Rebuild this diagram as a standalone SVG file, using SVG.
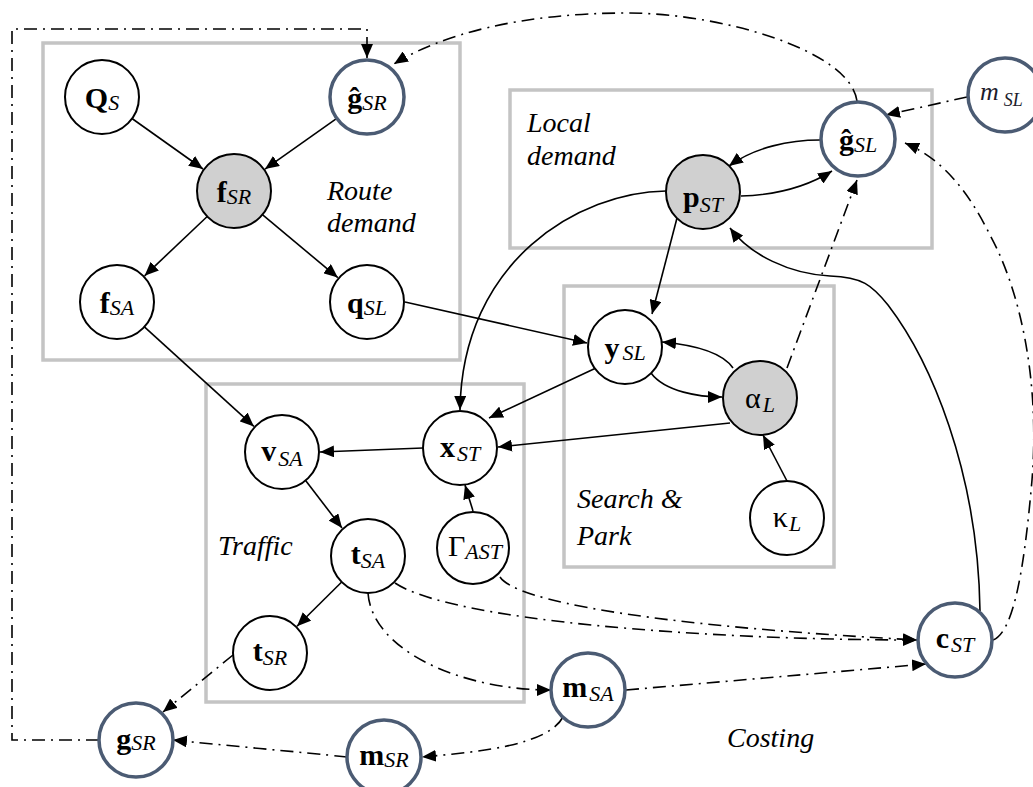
<svg xmlns="http://www.w3.org/2000/svg" width="1033" height="787" viewBox="0 0 1033 787">
<style>
.box{fill:none;stroke:#c4c4c4;stroke-width:3.5}
.n{fill:#fff;stroke:#000;stroke-width:2}
.g{fill:#d0d0d0;stroke:#000;stroke-width:2}
.bl{fill:#fff;stroke:#4b5b73;stroke-width:3.5}
.c{fill:none;stroke:#000;stroke-width:1.6}
.d{fill:none;stroke:#000;stroke-width:1.6;stroke-dasharray:13 6 2 6}
</style>
<defs>
<marker id="ah" viewBox="0 0 14 12" refX="14" refY="6" markerWidth="14" markerHeight="12" orient="auto" markerUnits="userSpaceOnUse"><path d="M0,0 L14,6 L0,12 z" fill="#000"/></marker>
</defs>
<rect width="1033" height="787" fill="#fff"/>
<g id="boxes">
<rect class="box" x="43" y="43" width="417" height="317"/>
<rect class="box" x="510" y="90" width="422" height="158"/>
<rect class="box" x="564" y="286" width="270" height="281"/>
<rect class="box" x="206" y="384" width="318" height="318"/>
</g>
<g id="box-labels">
<text x="327" y="200" font-family="Times New Roman, Liberation Serif, serif" font-size="28" font-style="italic">Route</text>
<text x="327" y="232" font-family="Times New Roman, Liberation Serif, serif" font-size="28" font-style="italic">demand</text>
<text x="527" y="132" font-family="Times New Roman, Liberation Serif, serif" font-size="28" font-style="italic">Local</text>
<text x="527" y="165" font-family="Times New Roman, Liberation Serif, serif" font-size="28" font-style="italic">demand</text>
<text x="577" y="508" font-family="Times New Roman, Liberation Serif, serif" font-size="28" font-style="italic">Search &amp;</text>
<text x="577" y="545" font-family="Times New Roman, Liberation Serif, serif" font-size="28" font-style="italic">Park</text>
<text x="218" y="555" font-family="Times New Roman, Liberation Serif, serif" font-size="28" font-style="italic">Traffic</text>
<text x="727" y="747" font-family="Times New Roman, Liberation Serif, serif" font-size="28" font-style="italic">Costing</text>
</g>
<g id="connectors">
<path class="c" marker-end="url(#ah)" d="M132,118.5 L203,169"/>
<path class="c" marker-end="url(#ah)" d="M336.8,118.4 L265,169.1"/>
<path class="c" marker-end="url(#ah)" d="M207.2,216.5 L144.6,275.8"/>
<path class="c" marker-end="url(#ah)" d="M262.4,214.7 L337.8,277.6"/>
<path class="c" marker-end="url(#ah)" d="M144.4,326.9 L253.9,426.4"/>
<path class="c" marker-end="url(#ah)" d="M405,302 L587,343"/>
<path class="c" marker-end="url(#ah)" d="M423,448 L320,452"/>
<path class="c" marker-end="url(#ah)" d="M305.6,480.5 L342,528"/>
<path class="c" marker-end="url(#ah)" d="M473,511 L465,485"/>
<path class="c" marker-end="url(#ah)" d="M341.7,582 L297,626.3"/>
<path class="c" marker-end="url(#ah)" d="M596,368 L489,418"/>
<path class="c" marker-end="url(#ah)" d="M730,423 L498,447"/>
<path class="c" marker-end="url(#ah)" d="M787,481 L763,435"/>
<path class="c" marker-end="url(#ah)" d="M677,218 L652,314"/>
<path class="c" marker-end="url(#ah)" d="M651,373 C665,392 700,397 722,397"/>
<path class="c" marker-end="url(#ah)" d="M733,368 C722,352 695,345 662,342"/>
<path class="c" marker-end="url(#ah)" d="M820,140 C790,140 755,147 729,166"/>
<path class="c" marker-end="url(#ah)" d="M741,196 C775,195 805,188 832,171"/>
<path class="c" marker-end="url(#ah)" d="M666,191 C580,192 462,260 460,410"/>
<path class="c" marker-end="url(#ah)" d="M980,611 C978,470 930,360 888,305 C872,285 862,277 830,276 C790,274 750,255 730,228"/>
<path class="d" marker-end="url(#ah)" d="M857,101 C850,50 720,13 627,13 C520,13 440,35 394,64"/>
<path class="d" marker-end="url(#ah)" d="M99,740 L12,740 L12,29 L367,29 L367,58"/>
<path class="d" marker-end="url(#ah)" d="M967,97 L886,115"/>
<path class="d" marker-end="url(#ah)" d="M993,640 C1015,632 1025,560 1032,480 C1040,380 1020,290 990,235 C970,195 945,160 905,143"/>
<path class="d" marker-end="url(#ah)" d="M787,368 L857,180"/>
<path class="d" marker-end="url(#ah)" d="M233,655 L163,712"/>
<path class="d" marker-end="url(#ah)" d="M347,757 C300,752 220,745 173,740"/>
<path class="d" marker-end="url(#ah)" d="M563,717 C548,745 480,752 422,757"/>
<path class="d" marker-end="url(#ah)" d="M368,593 C372,650 460,690 551,690"/>
<path class="d" marker-end="url(#ah)" d="M395,583 C450,620 700,640 917,640"/>
<path class="d" marker-end="url(#ah)" d="M500,577 C515,600 640,625 917,640"/>
<path class="d" marker-end="url(#ah)" d="M626,690 L926,664"/>
</g>
<g id="nodes" font-family="Times New Roman, Liberation Serif, serif" font-size="30" text-anchor="middle">
<g id="QS"><circle class="n" cx="102" cy="97" r="37"/><text x="102" y="108"><tspan font-weight="bold">Q</tspan><tspan font-style="italic" font-size="22" dy="2">S</tspan></text></g>
<g id="ghatSR"><circle class="bl" cx="367" cy="97" r="37"/><text x="367" y="108"><tspan font-weight="bold">ĝ</tspan><tspan font-style="italic" font-size="22" dy="2">SR</tspan></text></g>
<g id="fSR"><circle class="g" cx="234" cy="191" r="37"/><text x="234" y="202"><tspan font-weight="bold">f</tspan><tspan font-style="italic" font-size="22" dy="2">SR</tspan></text></g>
<g id="fSA"><circle class="n" cx="117" cy="302" r="37"/><text x="117" y="313"><tspan font-weight="bold">f</tspan><tspan font-style="italic" font-size="22" dy="2">SA</tspan></text></g>
<g id="qSL"><circle class="n" cx="367" cy="302" r="37"/><text x="367" y="313"><tspan font-weight="bold">q</tspan><tspan font-style="italic" font-size="22" dy="2">SL</tspan></text></g>
<g id="pST"><circle class="g" cx="703" cy="192" r="37"/><text x="703" y="207"><tspan font-weight="bold">p</tspan><tspan font-style="italic" font-size="22" dy="5">ST</tspan></text></g>
<g id="ghatSL"><circle class="bl" cx="858" cy="139" r="37"/><text x="858" y="150"><tspan font-weight="bold">ĝ</tspan><tspan font-style="italic" font-size="22" dy="2">SL</tspan></text></g>
<g id="mSL"><circle class="bl" cx="1005" cy="95" r="37"/><text x="980" y="100" text-anchor="start" font-style="italic" font-size="26" fill="#1c1c2c">m<tspan dx="5" dy="6" font-size="18">SL</tspan></text></g>
<g id="ySL"><circle class="n" cx="625" cy="347" r="37"/><text x="625" y="358"><tspan font-weight="bold">y</tspan><tspan font-style="italic" font-size="22" dx="3" dy="2">SL</tspan></text></g>
<g id="alphaL"><circle class="g" cx="760" cy="398" r="37"/><text x="760" y="408">α<tspan font-style="italic" font-size="22" dx="2" dy="4">L</tspan></text></g>
<g id="kappaL"><circle class="n" cx="787" cy="518" r="37"/><text x="787" y="527">κ<tspan font-style="italic" font-size="22" dx="1" dy="4">L</tspan></text></g>
<g id="xST"><circle class="n" cx="460" cy="448" r="37"/><text x="460" y="457"><tspan font-weight="bold">x</tspan><tspan font-style="italic" font-size="22" dx="2" dy="4">ST</tspan></text></g>
<g id="vSA"><circle class="n" cx="282" cy="452" r="37"/><text x="282" y="461"><tspan font-weight="bold">v</tspan><tspan font-style="italic" font-size="22" dx="2" dy="5">SA</tspan></text></g>
<g id="tSA"><circle class="n" cx="368" cy="556" r="37"/><text x="368" y="564"><tspan font-weight="bold">t</tspan><tspan font-style="italic" font-size="22" dy="4">SA</tspan></text></g>
<g id="GammaAST"><circle class="n" cx="473" cy="548" r="36"/><text x="475" y="556">Γ<tspan font-style="italic" font-size="22" dy="3">AST</tspan></text></g>
<g id="tSR"><circle class="n" cx="270" cy="653" r="37"/><text x="270" y="661"><tspan font-weight="bold">t</tspan><tspan font-style="italic" font-size="22" dy="4">SR</tspan></text></g>
<g id="gSR"><circle class="bl" cx="136" cy="740" r="37"/><text x="136" y="749"><tspan font-weight="bold">g</tspan><tspan font-style="italic" font-size="22" dy="1">SR</tspan></text></g>
<g id="mSR"><circle class="bl" cx="384" cy="757" r="37"/><text x="384" y="765"><tspan font-weight="bold">m</tspan><tspan font-style="italic" font-size="22" dy="2">SR</tspan></text></g>
<g id="mSA"><circle class="bl" cx="588" cy="690" r="37"/><text x="588" y="697"><tspan font-weight="bold">m</tspan><tspan font-style="italic" font-size="22" dx="2" dy="4">SA</tspan></text></g>
<g id="cST"><circle class="bl" cx="955" cy="640" r="37"/><text x="955" y="648"><tspan font-weight="bold">c</tspan><tspan font-style="italic" font-size="22" dx="2" dy="4">ST</tspan></text></g>
</g>
</svg>
